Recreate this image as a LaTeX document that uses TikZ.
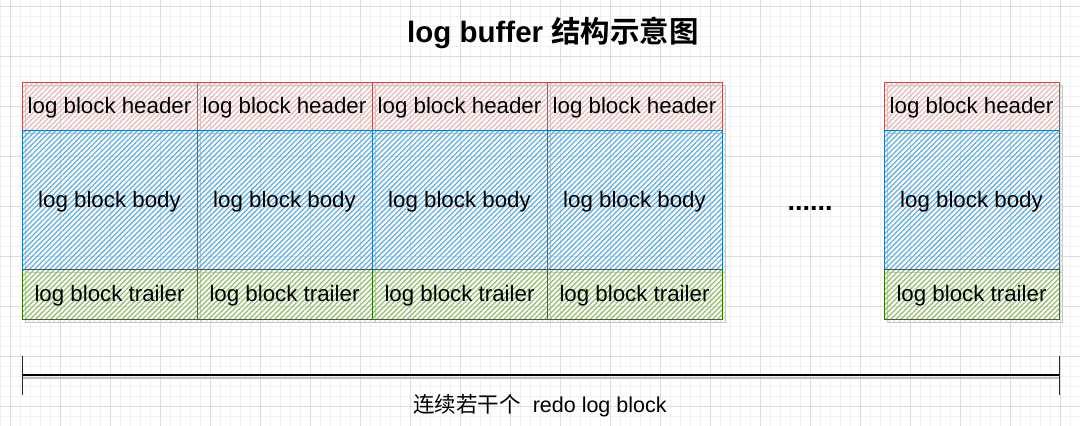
\documentclass[tikz,border=0pt]{standalone}
\usepackage{fontspec}
\setmainfont{Liberation Sans}
\newfontfamily\cjk{Noto Sans CJK SC}[BoldFont={Noto Sans CJK SC Bold}]
\usetikzlibrary{patterns.meta,shadows}
\definecolor{gridminor}{HTML}{F1F1F1}
\definecolor{gridmajor}{HTML}{DCDCDC}
\definecolor{hdrline}{HTML}{B85450}
\definecolor{hdrfill}{HTML}{EDB8B6}
\definecolor{bdyline}{HTML}{1A7AB8}
\definecolor{bdyfill}{HTML}{55AEE6}
\definecolor{trlline}{HTML}{2D7600}
\definecolor{trlfill}{HTML}{8FBF60}
\tikzset{
  blockbase/.style={draw, line width=1pt, minimum width=175pt, inner sep=0pt,
    font=\fontsize{22.3}{26}\selectfont, text=black, text height=20pt, text depth=4.6pt,
    general shadow={shadow xshift=3pt, shadow yshift=-3pt, draw=black!22, line width=0.8pt,
      pattern={Lines[angle=45,distance=3.6pt,line width=0.9pt]}, pattern color=black!14}},
  hdr/.style={blockbase, draw=hdrline, minimum height=48pt,
    pattern={Lines[angle=45,distance=3.6pt,line width=1.1pt]}, pattern color=hdrfill},
  bdy/.style={blockbase, draw=bdyline, minimum height=139pt,
    pattern={Lines[angle=45,distance=3.6pt,line width=1.1pt]}, pattern color=bdyfill},
  trl/.style={blockbase, draw=trlline, minimum height=50pt,
    pattern={Lines[angle=45,distance=3.6pt,line width=1.1pt]}, pattern color=trlfill},
}
\begin{document}
\begin{tikzpicture}[x=1pt,y=-1pt]
\useasboundingbox (0,0) rectangle (1080,426);
\fill[white] (0,0) rectangle (1080,426);
% grid
\foreach \i in {0,...,108} \draw[gridminor, line width=0.8pt] (10*\i,0) -- (10*\i,426);
\foreach \j in {0,...,42} \draw[gridminor, line width=0.8pt] (0,6+10*\j) -- (1080,6+10*\j);
\foreach \i in {0,...,21} \draw[gridmajor, line width=1pt] (10+50*\i,0) -- (10+50*\i,426);
\foreach \j in {0,...,8} \draw[gridmajor, line width=1pt] (0,6+50*\j) -- (1080,6+50*\j);
% title
\node[font=\bfseries\fontsize{29.5}{34}\selectfont] (title) at (553,32.5) {log buffer {\cjk\bfseries 结构示意图}};
% blocks
\foreach \n/\cx in {1/109.5,2/284.5,3/459.5,4/634.5,5/971.5}{
  \node[hdr] (h\n) at (\cx,106) {log block header};
  \node[bdy] (b\n) at (\cx,199.5) {log block body};
  \node[trl] (t\n) at (\cx,294) {log block trailer};
}
\node[font=\bfseries\fontsize{27}{30}\selectfont] (dots) at (810,208) {......};
% span line
\coordinate (Lt) at (22,356); \coordinate (Lb) at (22,395);
\coordinate (Rt) at (1059,356); \coordinate (Rb) at (1059,395);
\coordinate (L) at (22,375); \coordinate (R) at (1059,375);
\coordinate (Ls) at (22,378); \coordinate (Rs) at (1059,378);
\draw[black!25, line width=2pt] (Ls) -- (Rs);
\draw[black, line width=1.6pt] (L) -- (R);
\draw[black!85, line width=0.8pt] (Lt) -- (Lb);
\draw[black!85, line width=0.8pt] (Rt) -- (Rb);
\node[font=\fontsize{21.5}{25}\selectfont] (cap) at (540,406) {{\cjk 连续若干个}\ \ redo log block};
\end{tikzpicture}
\end{document}
